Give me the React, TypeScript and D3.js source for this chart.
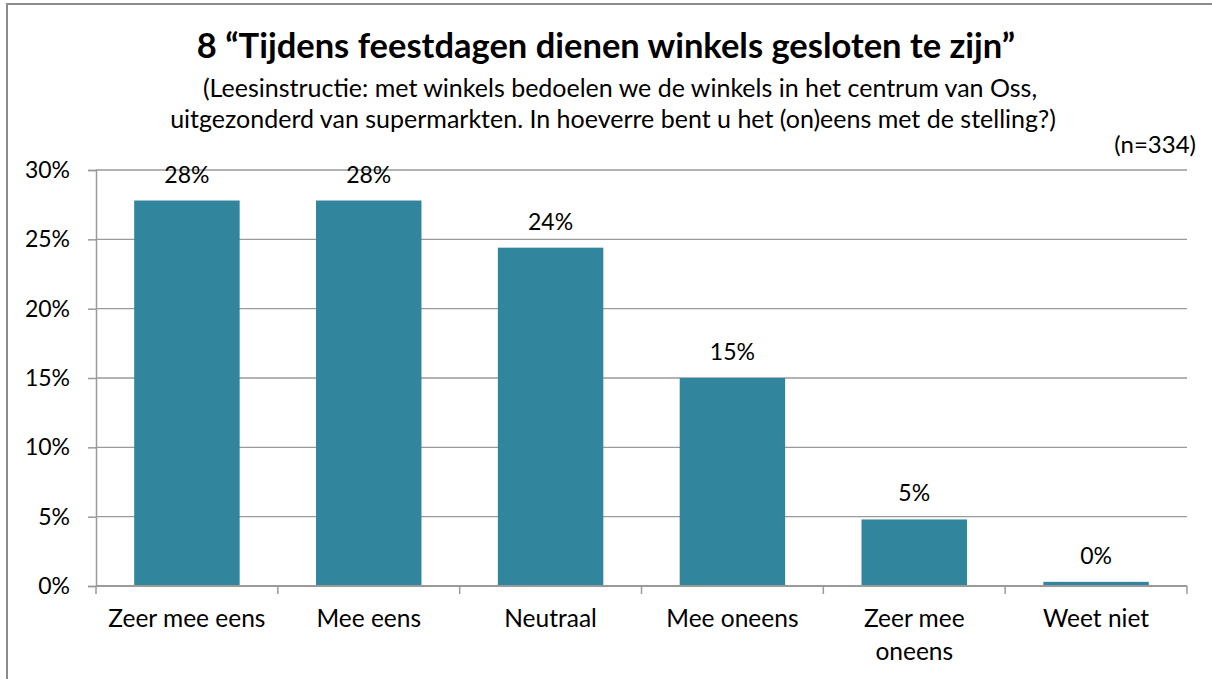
import React, { useEffect, useRef } from 'react';
import * as d3 from 'd3';

const categories = ['Zeer mee eens', 'Mee eens', 'Neutraal', 'Mee oneens', 'Zeer mee oneens', 'Weet niet'];
const labelLines = [['Zeer mee eens'], ['Mee eens'], ['Neutraal'], ['Mee oneens'], ['Zeer mee', 'oneens'], ['Weet niet']];
const values = [27.8, 27.8, 24.4, 15.0, 4.8, 0.3];
const valueLabels = ['28%', '28%', '24%', '15%', '5%', '0%'];
const yTicks = [0, 5, 10, 15, 20, 25, 30];

const title = '8 \u201CTijdens feestdagen dienen winkels gesloten te zijn\u201D';
const subtitle = [
  '(Leesinstructie: met winkels bedoelen we de winkels in het centrum van Oss,',
  'uitgezonderd van supermarkten. In hoeverre bent u het (on)eens met de stelling?)',
];
const nLabel = '(n=334)';

const W = 1212;
const H = 679;
const FONT = 'Lato, "Open Sans", sans-serif';

export default function App() {
  const svgRef = useRef<SVGSVGElement>(null);

  useEffect(() => {
    if (!svgRef.current) return;
    const svg = d3.select(svgRef.current);
    svg.selectAll('*').remove();

    const margin = { top: 170, right: 25, bottom: 93, left: 96 };

    // chart frame
    svg.append('rect')
      .attr('x', 7).attr('y', 4)
      .attr('width', W + 20).attr('height', H + 20)
      .attr('fill', '#fff')
      .attr('stroke', '#8c8c8c')
      .attr('stroke-width', 2);

    const x = d3.scaleBand()
      .domain(categories)
      .range([margin.left, W - margin.right])
      .paddingInner(0.42)
      .paddingOuter(0.21);

    const y = d3.scaleLinear()
      .domain([0, 30])
      .range([H - margin.bottom, margin.top]);

    // gridlines
    svg.append('g')
      .selectAll('line')
      .data(yTicks.filter(t => t > 0))
      .join('line')
      .attr('x1', margin.left).attr('x2', W - margin.right)
      .attr('y1', d => y(d)).attr('y2', d => y(d))
      .attr('stroke', '#9a9a9a')
      .attr('stroke-width', 1.3);

    // y axis
    const yAxis = svg.append('g')
      .attr('transform', `translate(${margin.left},0)`)
      .call(d3.axisLeft(y).tickValues(yTicks).tickFormat(d => `${d}%`).tickSize(8).tickPadding(18));
    yAxis.select('.domain').attr('stroke', '#9a9a9a').attr('stroke-width', 1.5);
    yAxis.selectAll('.tick line').attr('stroke', '#9a9a9a').attr('stroke-width', 1.5);
    yAxis.selectAll('text')
      .attr('font-size', '23px')
      .attr('font-family', FONT)
      .attr('fill', '#000');

    // bars
    svg.append('g')
      .selectAll('rect')
      .data(values)
      .join('rect')
      .attr('x', (d, i) => x(categories[i]) || 0)
      .attr('y', d => y(d))
      .attr('width', x.bandwidth())
      .attr('height', d => y(0) - y(d))
      .attr('fill', '#31869e');

    // value labels
    svg.append('g')
      .selectAll('text')
      .data(values)
      .join('text')
      .attr('x', (d, i) => (x(categories[i]) || 0) + x.bandwidth() / 2)
      .attr('y', d => y(d) - 18)
      .attr('text-anchor', 'middle')
      .attr('font-size', '23px')
      .attr('font-family', FONT)
      .attr('fill', '#000')
      .text((d, i) => valueLabels[i]);

    // x axis
    const step = x.step();
    const x0 = margin.left;
    const base = y(0);
    svg.append('line')
      .attr('x1', x0).attr('x2', W - margin.right)
      .attr('y1', base).attr('y2', base)
      .attr('stroke', '#9a9a9a').attr('stroke-width', 2);
    svg.append('g')
      .selectAll('line')
      .data(d3.range(categories.length + 1))
      .join('line')
      .attr('x1', i => x0 + i * step).attr('x2', i => x0 + i * step)
      .attr('y1', base).attr('y2', base + 8)
      .attr('stroke', '#9a9a9a').attr('stroke-width', 1.5);

    const xl = svg.append('g')
      .selectAll('text')
      .data(labelLines)
      .join('text')
      .attr('x', (d, i) => (x(categories[i]) || 0) + x.bandwidth() / 2)
      .attr('y', 627)
      .attr('text-anchor', 'middle')
      .attr('font-size', '24.5px')
      .attr('font-family', FONT)
      .attr('fill', '#000');
    xl.each(function (lines) {
      const t = d3.select(this);
      const cx = t.attr('x');
      lines.forEach((ln, j) => {
        t.append('tspan').attr('x', cx).attr('dy', j === 0 ? 0 : 33).text(ln);
      });
    });

    // titles
    svg.append('text')
      .attr('x', 606).attr('y', 58)
      .attr('text-anchor', 'middle')
      .attr('font-size', '34.5px')
      .attr('font-weight', 'bold')
      .attr('font-family', FONT)
      .attr('fill', '#000')
      .text(title);
    svg.append('g')
      .selectAll('text')
      .data(subtitle)
      .join('text')
      .attr('x', (d, i) => (i === 0 ? 620 : 613))
      .attr('y', (d, i) => 97 + i * 31)
      .attr('text-anchor', 'middle')
      .attr('font-size', '25px')
      .attr('font-family', FONT)
      .attr('fill', '#000')
      .text(d => d);
    svg.append('text')
      .attr('x', 1196).attr('y', 153)
      .attr('text-anchor', 'end')
      .attr('font-size', '24px')
      .attr('font-family', FONT)
      .attr('fill', '#000')
      .text(nLabel);
  }, []);

  return (
    <svg
      ref={svgRef}
      width={W}
      height={H}
      viewBox={`0 0 ${W} ${H}`}
      style={{ position: 'absolute', left: 0, top: 0, background: '#fff' }}
    />
  );
}
